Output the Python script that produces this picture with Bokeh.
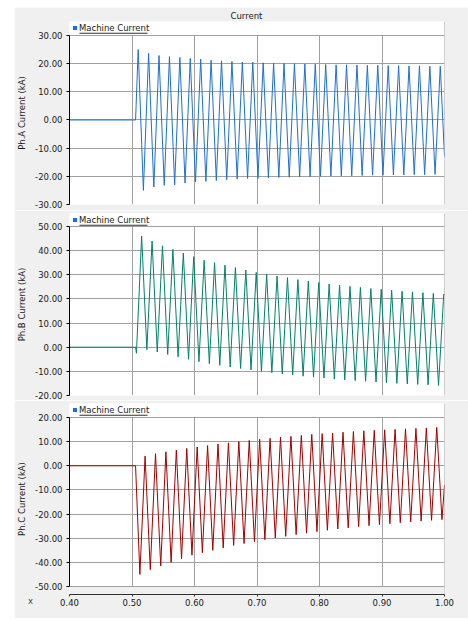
from bokeh.plotting import figure
from bokeh.layouts import column
from bokeh.models import (Range1d, FixedTicker, PrintfTickFormatter, Legend, LegendItem,
                          BoxAnnotation, Span, Label, Title)
from bokeh.embed import file_html
from bokeh.resources import INLINE

# ---------------- data ----------------
x_start, x_end = 0.40, 1.00
x_ticks = [0.40, 0.50, 0.60, 0.70, 0.80, 0.90, 1.00]
fault_time = 0.5057
half_period = 1.0 / 120.0

# Phase A extremes (first extreme is a peak)
a_first_t = 0.5099
a_peaks = [25.0, 23.7, 22.9, 22.5, 22.2, 21.9, 21.6, 21.2, 21.0, 20.8, 20.6, 20.5, 20.3, 20.2, 20.1,
           20.0, 19.9, 19.8, 19.7, 19.6, 19.6, 19.5, 19.4, 19.4, 19.3, 19.3, 19.2, 19.2, 19.1, 19.1]
a_troughs = [-25.0, -23.8, -23.2, -23.0, -22.4, -22.0, -21.8, -21.5, -21.2, -21.0, -20.8, -20.7, -20.5,
             -20.4, -20.3, -20.2, -20.1, -20.0, -19.9, -19.8, -19.8, -19.7, -19.6, -19.6, -19.5, -19.5,
             -19.4, -19.4, -19.3]
a_end = -13.0

# Phase B extremes (first extreme is a small trough)
b_first_t = 0.5071
b_peaks = [46.0, 44.0, 42.0, 40.5, 39.0, 37.5, 36.0, 35.0, 34.0, 33.0, 32.0, 31.0, 30.2, 29.5, 28.8,
           28.0, 27.4, 26.8, 26.2, 25.7, 25.2, 24.8, 24.3, 24.0, 23.6, 23.2, 22.9, 22.6, 22.3, 22.0]
b_troughs = [-2.5, -1.0, -2.0, -3.0, -4.0, -5.0, -6.0, -6.8, -7.5, -8.2, -8.8, -9.4, -10.0, -10.5, -11.0,
             -11.5, -12.0, -12.4, -12.8, -13.2, -13.5, -13.8, -14.1, -14.4, -14.7, -15.0, -15.2, -15.4,
             -15.6, -15.8]
b_end = 21.5

# Phase C extremes (first extreme is a trough)
c_first_t = 0.5126
c_peaks = [4.0, 5.0, 5.8, 6.5, 7.2, 7.8, 8.4, 9.0, 9.5, 10.0, 10.5, 11.0, 11.4, 11.8, 12.2, 12.6, 13.0,
           13.3, 13.6, 13.9, 14.2, 14.5, 14.7, 14.9, 15.1, 15.3, 15.5, 15.7, 15.9]
c_troughs = [-45.0, -43.0, -41.5, -40.0, -38.5, -37.0, -36.0, -35.0, -34.0, -33.0, -32.2, -31.4, -30.6,
             -29.9, -29.2, -28.5, -27.9, -27.3, -26.7, -26.2, -25.7, -25.2, -24.8, -24.4, -24.0, -23.6,
             -23.2, -22.9, -22.6, -22.3]
c_end = -8.0

a_ticks = [-30, -20, -10, 0, 10, 20, 30]
b_ticks = [-20, -10, 0, 10, 20, 30, 40, 50]
c_ticks = [-50, -40, -30, -20, -10, 0, 10, 20]

legend_label = "Machine Current"
title_text = "Current"
x_label = "x"

# ---------------- style ----------------
FONT = "DejaVu Sans"
FS = "8.5px"
GRAY = "#f0f0f0"
GRID = "#a0a0a0"
LEG = "#1f6fd0"
COL_A = "#1f6fd0"
COL_B = "#00806c"
COL_C = "#a00000"
TXT = "#1a1a1a"


def build_series(first_t, first_is_peak, peaks, troughs, end_val):
    n = len(peaks) + len(troughs)
    ext, pi, ti = [], 0, 0
    for k in range(n):
        if (k % 2 == 0) == first_is_peak:
            ext.append(peaks[pi]); pi += 1
        else:
            ext.append(troughs[ti]); ti += 1
    ts = [first_t + k * half_period for k in range(n)]
    return [x_start, fault_time] + ts + [x_end], [0.0, 0.0] + ext + [end_val]


def make_panel(ylabel, ticks, yr, frame_h, color, series, top_b, bot_b, show_x):
    p = figure(frame_width=375, frame_height=frame_h,
               x_range=Range1d(x_start, x_end), y_range=Range1d(*yr),
               output_backend="svg", toolbar_location=None,
               min_border_left=55, min_border_right=24,
               min_border_top=top_b, min_border_bottom=bot_b,
               background_fill_color="white", border_fill_color=GRAY,
               outline_line_color=None,
               x_axis_location="below" if show_x else None)
    lo, hi = ticks[0], ticks[-1]
    ax = p.yaxis[0]
    ax.ticker = FixedTicker(ticks=ticks)
    ax.bounds = (lo, hi)
    ax.formatter = PrintfTickFormatter(format="%.2f")
    ax.axis_label = ylabel
    ax.axis_label_text_font = FONT
    ax.axis_label_text_font_size = FS
    ax.axis_label_text_font_style = "normal"
    ax.axis_label_text_color = TXT
    ax.axis_label_standoff = 5
    ax.major_label_text_font = FONT
    ax.major_label_text_font_size = FS
    ax.major_label_text_color = TXT
    ax.major_label_standoff = 4
    ax.major_tick_out = 3
    ax.major_tick_in = 0
    ax.minor_tick_out = 0
    ax.minor_tick_in = 0
    ax.axis_line_color = "#000000"
    ax.major_tick_line_color = "#000000"

    p.xgrid.ticker = FixedTicker(ticks=x_ticks)
    p.xgrid.cross_bounds = (lo, hi)
    p.ygrid.ticker = FixedTicker(ticks=ticks)
    for g in (p.xgrid[0], p.ygrid[0]):
        g.grid_line_color = GRID
        g.grid_line_width = 1

    p.add_layout(Span(location=x_end, dimension="height", line_color=GRID, line_width=1, level="image"))
    if show_x:
        p.add_layout(BoxAnnotation(top=lo, fill_color=GRAY, fill_alpha=1.0, line_alpha=0, level="image"))
        xa = p.xaxis[0]
        xa.ticker = FixedTicker(ticks=x_ticks)
        xa.formatter = PrintfTickFormatter(format="%.2f")
        xa.major_label_text_font = FONT
        xa.major_label_text_font_size = FS
        xa.major_label_text_color = TXT
        xa.major_label_standoff = 2
        xa.major_tick_out = 2
        xa.major_tick_in = 0
        xa.minor_tick_out = 0
        xa.minor_tick_in = 0
        xa.axis_line_color = "#303030"
        xa.major_tick_line_color = "#303030"
        p.add_layout(Label(x=-39, y=18, x_units="screen", y_units="screen", text=x_label,
                           text_font=FONT, text_font_size=FS, text_color="#444444",
                           text_align="center", text_baseline="middle"), "below")

    xs, ys = series
    p.line(xs, ys, line_color=color, line_width=1)

    dummy = p.quad(left=[], right=[], top=[], bottom=[], fill_color=LEG, line_color=None)
    leg = Legend(items=[LegendItem(label=legend_label, renderers=[dummy])],
                 location=(3, frame_h - 11.5), padding=0, margin=0, spacing=0,
                 glyph_width=5, glyph_height=5, label_height=10, label_standoff=2,
                 label_text_font=FONT, label_text_font_size=FS, label_text_color=TXT,
                 background_fill_alpha=0, border_line_alpha=0)
    p.add_layout(leg)
    p.add_layout(BoxAnnotation(left=3.5, right=7.5, top=frame_h - 4.5, bottom=frame_h - 8.5,
                               left_units="screen", right_units="screen",
                               top_units="screen", bottom_units="screen",
                               fill_color=LEG, fill_alpha=1.0, line_alpha=0))
    p.add_layout(BoxAnnotation(left=10, right=78, top=frame_h - 11.2, bottom=frame_h - 12.2,
                               left_units="screen", right_units="screen",
                               top_units="screen", bottom_units="screen",
                               fill_color="#303030", fill_alpha=1.0, line_alpha=0))
    return p


sa = build_series(a_first_t, True, a_peaks, a_troughs, a_end)
sb = build_series(b_first_t, False, b_peaks, b_troughs, b_end)
sc = build_series(c_first_t, False, c_peaks, c_troughs, c_end)

p1 = make_panel("Ph.A Current (kA)", a_ticks, (-30, 34.97), 183, COL_A, sa, 12, 6, False)
p1.title = Title(text=title_text, align="left", text_font=FONT, text_font_size=FS,
                 text_font_style="normal", text_color=TXT, standoff=2, offset=161)
p2 = make_panel("Ph.B Current (kA)", b_ticks, (-20, 55.39), 182, COL_B, sb, 3, 5, False)
p3 = make_panel("Ph.C Current (kA)", c_ticks, (-53.31, 25.8), 191, COL_C, sc, 3, 0, True)

layout = column(p1, p2, p3, spacing=0, margin=(7, 0, 0, 14))
open("out.html", "w").write(file_html(layout, INLINE))
